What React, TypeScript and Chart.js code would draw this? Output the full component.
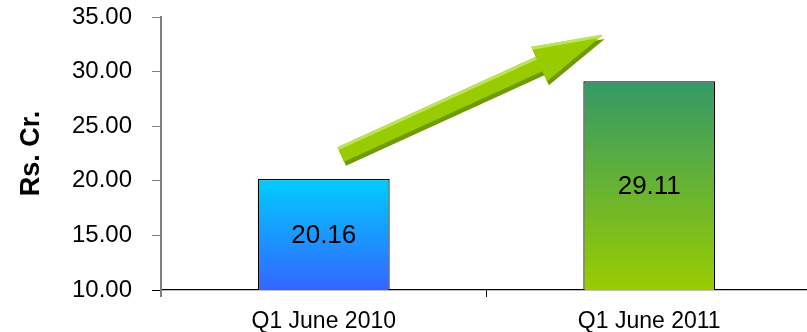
import React, { useEffect, useRef } from "react";
import { Chart, registerables } from "chart.js";

Chart.register(...registerables);

const categories = ["Q1 June 2010", "Q1 June 2011"];
const values = [20.16, 29.11];
const topColors = ["#00CCFF", "#339966"];
const bottomColors = ["#3366FF", "#99CC00"];
const yMin = 10;
const yMax = 35;
const yStep = 5;
const yTitle = "Rs. Cr.";
// decorative growth arrow, in data space (category index, value)
const arrowFrom = { x: 0.052, y: 22.4 };
const arrowTo = { x: 0.857, y: 33.35 };

const FONT = "'Liberation Sans', Arial, Helvetica, sans-serif";

const valueLabelPlugin = {
  id: "valueLabels",
  afterDatasetsDraw(chart: any) {
    const ctx = chart.ctx;
    const meta = chart.getDatasetMeta(0);
    const bottom = chart.chartArea.bottom;
    ctx.save();
    ctx.font = `26px ${FONT}`;
    ctx.fillStyle = "#000";
    ctx.textAlign = "center";
    ctx.textBaseline = "middle";
    meta.data.forEach((bar: any, i: number) => {
      const base = Math.min(bar.base, bottom);
      const y = (bar.y + base) / 2;
      ctx.fillText(values[i].toFixed(2), bar.x, y + 1);
    });
    // y axis line continues slightly below the x axis
    const left = chart.chartArea.left;
    ctx.strokeStyle = "#808080";
    ctx.lineWidth = 2;
    ctx.beginPath();
    ctx.moveTo(left, bottom);
    ctx.lineTo(left, bottom + 7);
    ctx.stroke();
    ctx.restore();
  },
};

const arrowPlugin = {
  id: "growthArrow",
  afterDraw(chart: any) {
    const xs = chart.scales.x;
    const ys = chart.scales.y;
    const tx = xs.getPixelForValue(arrowFrom.x);
    const ty = ys.getPixelForValue(arrowFrom.y);
    const px = xs.getPixelForValue(arrowTo.x);
    const py = ys.getPixelForValue(arrowTo.y);
    const dx = px - tx;
    const dy = py - ty;
    const len = Math.hypot(dx, dy);
    const ux = dx / len;
    const uy = dy / len;
    const nx = -uy;
    const ny = ux;
    const w = 8;
    const h = 19;
    const L = 70;
    const hx = px - ux * L;
    const hy = py - uy * L;
    const pts = (ox: number, oy: number) => [
      [tx + nx * w + ox, ty + ny * w + oy],
      [hx + nx * w + ox, hy + ny * w + oy],
      [hx + nx * h + ox, hy + ny * h + oy],
      [px + ox, py + oy],
      [hx - nx * h + ox, hy - ny * h + oy],
      [hx - nx * w + ox, hy - ny * w + oy],
      [tx - nx * w + ox, ty - ny * w + oy],
    ];
    const ctx = chart.ctx;
    const fillPoly = (p: number[][], color: string) => {
      ctx.beginPath();
      ctx.moveTo(p[0][0], p[0][1]);
      for (let i = 1; i < p.length; i++) ctx.lineTo(p[i][0], p[i][1]);
      ctx.closePath();
      ctx.fillStyle = color;
      ctx.fill();
    };
    ctx.save();
    fillPoly(pts(2, 4), "#6F9A00");
    fillPoly(pts(0, 0), "#99CC00");
    ctx.strokeStyle = "#BCE35A";
    ctx.lineWidth = 3;
    ctx.beginPath();
    ctx.moveTo(tx - nx * (w - 1.5), ty - ny * (w - 1.5));
    ctx.lineTo(hx - nx * (w - 1.5), hy - ny * (w - 1.5));
    ctx.moveTo(hx - nx * (h - 1.5), hy - ny * (h - 1.5));
    ctx.lineTo(px - ux * 3, py - uy * 3);
    ctx.stroke();
    ctx.restore();
  },
};

export default function App() {
  const ref = useRef<HTMLCanvasElement>(null);

  useEffect(() => {
    if (!ref.current) return;
    const makeGradient = (ctx: any) => {
      const chart = ctx.chart;
      const i = ctx.dataIndex;
      if (!chart.chartArea || i === undefined) return topColors[0];
      const ys = chart.scales.y;
      const top = ys.getPixelForValue(values[i]);
      const bottom = ys.getPixelForValue(yMin);
      const g = chart.ctx.createLinearGradient(0, top, 0, bottom);
      g.addColorStop(0, topColors[i]);
      g.addColorStop(1, bottomColors[i]);
      return g;
    };
    const chart = new Chart(ref.current, {
      type: "bar",
      data: {
        labels: categories,
        datasets: [
          {
            data: values,
            backgroundColor: makeGradient,
            borderColor: "#000",
            borderWidth: 1.2,
            categoryPercentage: 1,
            barPercentage: 0.405,
          },
        ],
      },
      options: {
        animation: false,
        responsive: false,
        devicePixelRatio: 1,
        layout: { padding: { top: 17, left: 0, right: 0, bottom: 0 } },
        plugins: {
          legend: { display: false },
          tooltip: { enabled: false },
        },
        scales: {
          x: {
            afterFit: (s: any) => {
              s.height = 42;
            },
            grid: {
              display: true,
              drawOnChartArea: false,
              drawTicks: true,
              tickLength: 7,
              color: "#000",
              offset: true,
            },
            border: { display: true, color: "#000", width: 1.2 },
            ticks: {
              color: "#000",
              font: { family: FONT, size: 23 },
              padding: 11,
              maxRotation: 0,
            },
          },
          y: {
            min: yMin,
            max: yMax,
            afterFit: (s: any) => {
              s.width = 161;
              s.paddingTop = 0;
              s.paddingBottom = 0;
            },
            grid: {
              display: true,
              drawOnChartArea: false,
              drawTicks: true,
              tickLength: 9,
              color: (c: any) => (c.tick && c.tick.value === yMin ? "#000" : "#808080"),
            },
            border: { display: true, color: "#808080", width: 2 },
            ticks: {
              stepSize: yStep,
              color: "#000",
              font: { family: FONT, size: 24 },
              padding: 20,
              callback: (v: any) => Number(v).toFixed(2),
            },
            title: {
              display: true,
              text: yTitle,
              color: "#000",
              font: { family: FONT, size: 27, weight: "bold" },
              padding: { top: 15, bottom: 0 },
            },
          },
        },
      },
      plugins: [valueLabelPlugin, arrowPlugin],
    });
    return () => chart.destroy();
  }, []);

  return (
    <div
      style={{
        position: "fixed",
        left: 0,
        top: 0,
        width: 807,
        height: 332,
        overflow: "hidden",
        background: "#fff",
      }}
    >
      <canvas ref={ref} width={812} height={332} style={{ display: "block" }} />
    </div>
  );
}
